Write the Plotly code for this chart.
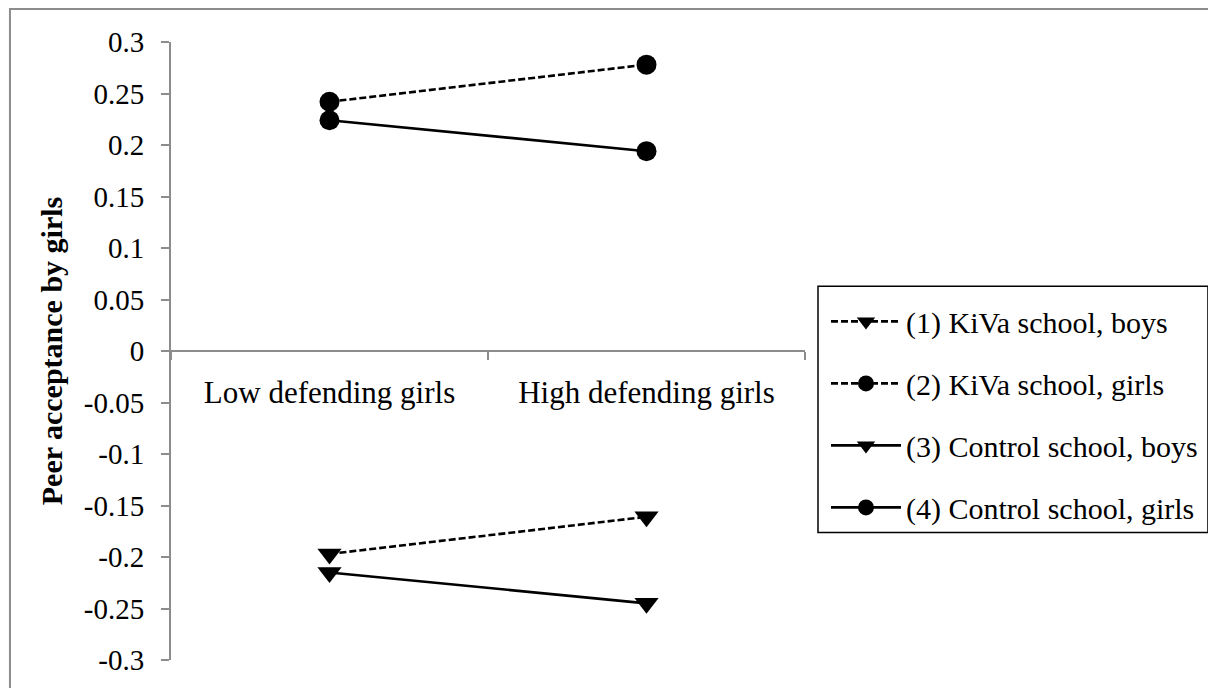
import plotly.graph_objects as go

categories = ["Low defending girls", "High defending girls"]
series_names = ["(1) KiVa school, boys", "(2) KiVa school, girls",
                "(3) Control school, boys", "(4) Control school, girls"]
kiva_boys = [-0.197, -0.161]
kiva_girls = [0.242, 0.278]
control_boys = [-0.215, -0.245]
control_girls = [0.224, 0.194]
y_ticks = [-0.3, -0.25, -0.2, -0.15, -0.1, -0.05, 0, 0.05, 0.1, 0.15, 0.2, 0.25, 0.3]
y_tick_labels = ["-0.3", "-0.25", "-0.2", "-0.15", "-0.1", "-0.05", "0",
                 "0.05", "0.1", "0.15", "0.2", "0.25", "0.3"]

series_values = [kiva_boys, kiva_girls, control_boys, control_girls]
dashes = ["7px,3px", "7px,3px", "solid", "solid"]
symbols = ["triangle-down", "circle", "triangle-down", "circle"]

FONT = "Liberation Serif, Times New Roman, serif"
fig = go.Figure()
for i, (name, vals) in enumerate(zip(series_names, series_values)):
    fig.add_trace(go.Scatter(
        x=categories, y=vals, name=name, mode="lines+markers",
        line=dict(color="black", width=2.6, dash=dashes[i]),
        marker=dict(symbol=symbols[i], size=20 if symbols[i] == "circle" else 21,
                    color="black"),
        legendgroup=f"g{i}",
    ))

fig.update_layout(
    width=1208, height=680,
    margin=dict(l=163, r=411, t=34, b=26),
    paper_bgcolor="white", plot_bgcolor="white",
    font=dict(family=FONT, size=29, color="black"),
    showlegend=True,
    legend=dict(
        x=1.0331, y=0.590, xanchor="left", yanchor="top",
        borderwidth=0, bgcolor="rgba(0,0,0,0)",
        font=dict(family=FONT, size=30, color="black"),
        tracegroupgap=20, traceorder="grouped",
        itemwidth=70,
    ),
    xaxis=dict(
        type="category", range=[-0.5, 1.5],
        anchor="free", position=0.5,
        showline=True, linecolor="#8c8c8c", linewidth=2,
        ticks="outside", tickson="boundaries", ticklen=8, tickcolor="#8c8c8c", tickwidth=1.5,
        showgrid=False, zeroline=False,
        tickfont=dict(family=FONT, size=31),
        ticklabelstandoff=14,
    ),
    yaxis=dict(
        range=[-0.3, 0.3], tickvals=y_ticks, ticktext=y_tick_labels,
        showline=True, linecolor="#8c8c8c", linewidth=2,
        ticks="outside", ticklen=8, tickcolor="#8c8c8c", tickwidth=1.5,
        showgrid=False, zeroline=False,
        tickfont=dict(family=FONT, size=29),
        ticklabelstandoff=11,
        title=dict(text="<b>Peer acceptance by girls</b>",
                   font=dict(family=FONT, size=30), standoff=12),
    ),
    shapes=[
        dict(type="rect", xref="paper", yref="paper",
             x0=-0.254, x1=1.70, y0=-0.1, y1=1.0532,
             line=dict(color="#8c8c8c", width=2), layer="below"),
        dict(type="rect", xref="paper", yref="paper",
             x0=1.0205, x1=1.6356, y0=0.2065, y1=0.6048,
             line=dict(color="black", width=1.5), fillcolor="white", layer="below"),
    ],
)

fig.write_html("out.html")
